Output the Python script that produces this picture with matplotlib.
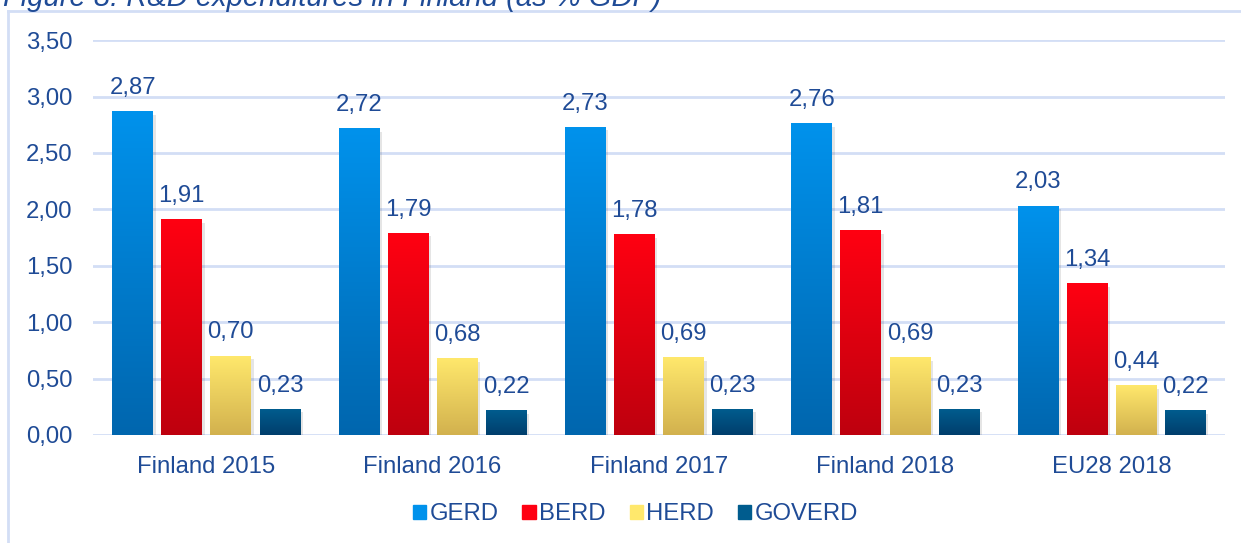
import numpy as np
import matplotlib
matplotlib.use("Agg")
import matplotlib.pyplot as plt
from matplotlib.colors import LinearSegmentedColormap
from matplotlib.patches import Rectangle
from matplotlib.lines import Line2D
from matplotlib.ticker import FuncFormatter

categories = ["Finland 2015", "Finland 2016", "Finland 2017", "Finland 2018", "EU28 2018"]
series = ["GERD", "BERD", "HERD", "GOVERD"]
gerd = [2.87, 2.72, 2.73, 2.76, 2.03]
berd = [1.91, 1.79, 1.78, 1.81, 1.34]
herd = [0.70, 0.68, 0.69, 0.69, 0.44]
goverd = [0.23, 0.22, 0.23, 0.23, 0.22]
values = [gerd, berd, herd, goverd]

# (top colour, bottom colour) for the gradient fills
grads = [("#0092EC", "#0066AE"), ("#FF0012", "#BE000E"),
         ("#FFE86C", "#D2B14E"), ("#005C8E", "#003E6C")]
txt = "#1F4B96"
grid_c = "#D3DEF5"
fs = 17.2

plt.rcParams["font.family"] = ["Liberation Sans", "DejaVu Sans"]

fig = plt.figure(figsize=(12.41, 5.43), dpi=100)
ax = fig.add_axes([0.075, 0.199, 0.912, 0.727])

x = np.arange(len(categories))
w = 0.18
step = 0.217

for i, (vals, (top, bot)) in enumerate(zip(values, grads)):
    cmap = LinearSegmentedColormap.from_list("g%d" % i, [bot, top])
    grad = np.linspace(0, 1, 256).reshape(-1, 1)
    for xi, v in zip(x, vals):
        xc = xi + (i - 1.5) * step
        # soft shadow
        ax.add_patch(Rectangle((xc - w / 2 + 0.012, -0.03), w, v, color="#000000",
                               alpha=0.10, lw=0, zorder=2))
        ax.imshow(grad, cmap=cmap, origin="lower", aspect="auto",
                  extent=[xc - w / 2, xc + w / 2, 0, v], zorder=3)
        ax.annotate(("%.2f" % v).replace(".", ","), (xc, v), xytext=(0, 9),
                    textcoords="offset points", ha="center", va="bottom",
                    fontsize=fs, color=txt, zorder=4)

ax.set_xlim(-0.5, len(categories) - 0.5)
ax.set_ylim(0, 3.5)
ax.set_yticks(np.arange(0, 3.51, 0.5))
ax.yaxis.set_major_formatter(FuncFormatter(lambda v, p: ("%.2f" % v).replace(".", ",")))
ax.set_xticks(x)
ax.set_xticklabels(categories)
ax.tick_params(axis="both", length=0, labelsize=fs, labelcolor=txt)
ax.tick_params(axis="y", pad=15)
ax.tick_params(axis="x", pad=15)
ax.grid(axis="y", color=grid_c, lw=2)
ax.set_axisbelow(True)
for s in ax.spines.values():
    s.set_visible(False)

handles = [Rectangle((0, 0), 1, 1, color=g[0]) for g in grads]
fig.legend(handles, series, loc="center", bbox_to_anchor=(0.512, 0.053), ncol=4,
           frameon=False, fontsize=fs, labelcolor=txt, handlelength=0.55,
           handleheight=0.55, handletextpad=0.15, columnspacing=1.0)

# outer frame, only top and left are visible
fig.add_artist(Line2D([8 / 1241, 1], [1 - 11 / 543, 1 - 11 / 543], color=grid_c, lw=2))
fig.add_artist(Line2D([8 / 1241, 8 / 1241], [0, 1 - 11 / 543], color=grid_c, lw=2))

fig.text(3 / 1241, 1 - 6 / 543, "Figure 8: R&D expenditures in Finland (as % GDP)",
         fontsize=21, style="italic", color=txt, ha="left", va="baseline")

fig.savefig("out.png", dpi=100)
